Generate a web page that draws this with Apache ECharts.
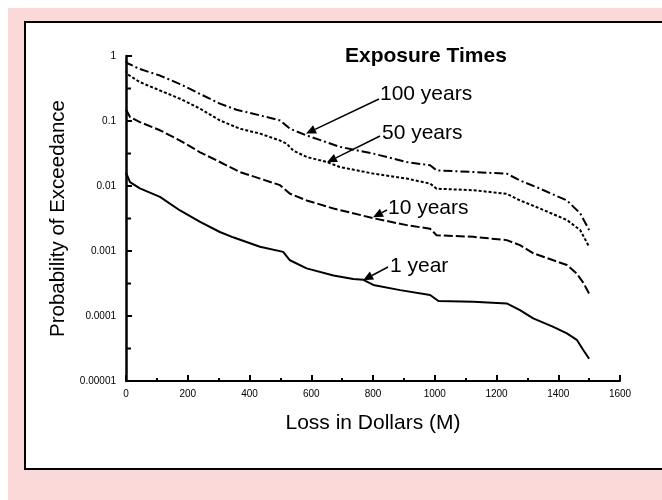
<!DOCTYPE html>
<html>
<head>
<meta charset="utf-8">
<script src="https://cdn.jsdelivr.net/npm/echarts@6/dist/echarts.min.js"></script>
<style>
  html, body { margin: 0; padding: 0; background: #fff; overflow: hidden; }
  #page { position: absolute; left: 8px; top: 8px; width: 654px; height: 492px; background: #fcd9d9; }
  #frame { position: absolute; left: 24px; top: 21px; width: 660px; height: 449px; box-sizing: border-box; border: 2px solid #000; background: #fff; }
  #chart { position: absolute; left: 0; top: 0; width: 662px; height: 500px; }
</style>
</head>
<body>
<div id="page"></div>
<div id="frame"></div>
<div id="chart"></div>
<script>
// loss (M$) and probability of exceedance
const loss100 = [0, 3, 45, 110, 175, 240, 304, 358, 434, 499, 531, 585, 693, 801, 909, 985, 1006, 1125, 1233, 1276, 1341, 1428, 1471, 1500]
const prob100 = [0.85, 0.78, 0.63, 0.50, 0.37, 0.26, 0.185, 0.149, 0.122, 0.102, 0.076, 0.060, 0.040, 0.0315, 0.0234, 0.0208, 0.0174, 0.0164, 0.0155, 0.0122, 0.0091, 0.0060, 0.0038, 0.0021]

const loss50 = [0, 3, 45, 110, 175, 240, 304, 369, 434, 499, 520, 542, 585, 650, 693, 801, 909, 985, 1006, 1125, 1233, 1276, 1341, 1428, 1471, 1500]
const prob50 = [0.60, 0.53, 0.396, 0.295, 0.22, 0.155, 0.102, 0.076, 0.064, 0.050, 0.045, 0.035, 0.028, 0.0234, 0.0196, 0.0155, 0.0130, 0.0109, 0.0091, 0.0086, 0.0076, 0.0060, 0.0045, 0.0030, 0.0021, 0.00116]

const loss10 = [0, 13, 45, 110, 175, 240, 304, 369, 434, 499, 531, 585, 672, 801, 909, 985, 1006, 1125, 1233, 1276, 1320, 1384, 1428, 1460, 1482, 1500]
const prob10 = [0.15, 0.115, 0.096, 0.072, 0.050, 0.033, 0.0234, 0.0164, 0.0130, 0.0103, 0.0076, 0.0060, 0.0045, 0.0032, 0.0025, 0.0022, 0.00175, 0.00165, 0.00147, 0.00123, 0.00092, 0.00072, 0.00061, 0.00045, 0.00032, 0.00022]

const loss1 = [0, 13, 45, 110, 175, 240, 304, 349, 434, 509, 531, 585, 672, 736, 769, 801, 888, 985, 1012, 1125, 1233, 1276, 1319, 1384, 1428, 1460, 1481, 1500]
const prob1 = [0.016, 0.0115, 0.0092, 0.0068, 0.0042, 0.0028, 0.00196, 0.00161, 0.00116, 0.00097, 0.00072, 0.00054, 0.00042, 0.00037, 0.00036, 0.0003, 0.00025, 0.00021, 0.00017, 0.000165, 0.000156, 0.000123, 0.000092, 0.000068, 0.000054, 0.000043, 0.00003, 0.000022]

const yTickLabels = ['0.00001', '0.0001', '0.001', '0.01', '0.1', '1']
// half-decade ticks on the log axis
const yMinorTicks = [0.0000316, 0.000316, 0.00316, 0.0316, 0.316]
const labelTexts = ['100 years', '50 years', '10 years', '1 year']
// point on each curve the arrow points at
const arrowTips = [[583, 0.064], [651, 0.0231], [800, 0.0033], [768, 0.000356]]

const font = 'Liberation Sans, Arial, sans-serif'
const zip = (xs, ys) => xs.map((x, i) => [x, ys[i]])

const myChart = echarts.init(document.getElementById('chart'))

const lineSeries = (name, xs, ys, dash) => ({
  name,
  type: 'line',
  data: zip(xs, ys),
  showSymbol: false,
  smooth: false,
  silent: true,
  lineStyle: { color: '#000', width: 2, type: dash },
})

const option = {
  animation: false,
  grid: { left: 126, right: 42, top: 56, bottom: 119 },
  xAxis: {
    type: 'value',
    min: 0,
    max: 1600,
    interval: 200,
    axisLine: { lineStyle: { color: '#000', width: 2 } },
    axisTick: { inside: true, length: 6, lineStyle: { color: '#000', width: 2 } },
    minorTick: { show: true, splitNumber: 2, length: 3, lineStyle: { color: '#000', width: 2 } },
    splitLine: { show: false },
    axisLabel: { color: '#000', fontSize: 10, margin: 8, fontFamily: font, formatter: (v) => String(v) },
    name: 'Loss in Dollars (M)',
    nameLocation: 'middle',
    nameGap: 32,
    nameTextStyle: { color: '#000', fontSize: 21, fontFamily: font },
  },
  yAxis: {
    type: 'log',
    logBase: 10,
    min: 0.00001,
    max: 1,
    axisLine: { show: true, lineStyle: { color: '#000', width: 2.5 } },
    axisTick: { show: true, inside: true, length: 6, lineStyle: { color: '#000', width: 2 } },
    splitLine: { show: false },
    axisLabel: {
      color: '#000',
      fontSize: 10,
      margin: 10,
      fontFamily: font,
      formatter: (v) => yTickLabels[Math.round(Math.log10(v)) + 5],
    },
    name: 'Probability of Exceedance',
    nameLocation: 'middle',
    nameGap: 49,
    nameTextStyle: { color: '#000', fontSize: 20.5, fontFamily: font },
  },
  series: [
    lineSeries('100 years', loss100, prob100, [9, 3, 2, 3]),
    lineSeries('50 years', loss50, prob50, [3, 2]),
    lineSeries('10 years', loss10, prob10, [9, 3]),
    lineSeries('1 year', loss1, prob1, 'solid'),
  ],
}
myChart.setOption(option)

const graphics = [
  {
    type: 'text',
    left: 345,
    top: 46,
    style: { text: 'Exposure Times', font: 'bold 21px ' + font, fill: '#000' },
  },
]

// minor ticks on the y axis at half decades
yMinorTicks.forEach((v) => {
  const p = myChart.convertToPixel({ gridIndex: 0 }, [0, v])
  graphics.push({
    type: 'line',
    shape: { x1: p[0], y1: p[1], x2: p[0] + 5, y2: p[1] },
    style: { stroke: '#000', lineWidth: 2 },
  })
})

// annotation labels and arrows
const labelPos = [[380, 94], [382, 133], [388, 208], [390, 266]]
const arrowTails = [[379, 99], [380, 136], [387, 210], [388, 267]]
arrowTips.forEach((tipVal, i) => {
  const tip = myChart.convertToPixel({ gridIndex: 0 }, tipVal)
  const tail = arrowTails[i]
  const dx = tip[0] - tail[0]
  const dy = tip[1] - tail[1]
  const len = Math.sqrt(dx * dx + dy * dy)
  const ux = dx / len
  const uy = dy / len
  const hl = 10
  const hw = 4.5
  const bx = tip[0] - ux * hl
  const by = tip[1] - uy * hl
  graphics.push({
    type: 'line',
    shape: { x1: tail[0], y1: tail[1], x2: bx, y2: by },
    style: { stroke: '#000', lineWidth: 1.5 },
  })
  graphics.push({
    type: 'polygon',
    shape: { points: [tip, [bx - uy * hw, by + ux * hw], [bx + uy * hw, by - ux * hw]] },
    style: { fill: '#000' },
  })
  graphics.push({
    type: 'text',
    x: labelPos[i][0],
    y: labelPos[i][1],
    style: { text: labelTexts[i], font: '21px ' + font, fill: '#000', textVerticalAlign: 'middle' },
  })
})
myChart.setOption({ graphic: graphics })
</script>
</body>
</html>
